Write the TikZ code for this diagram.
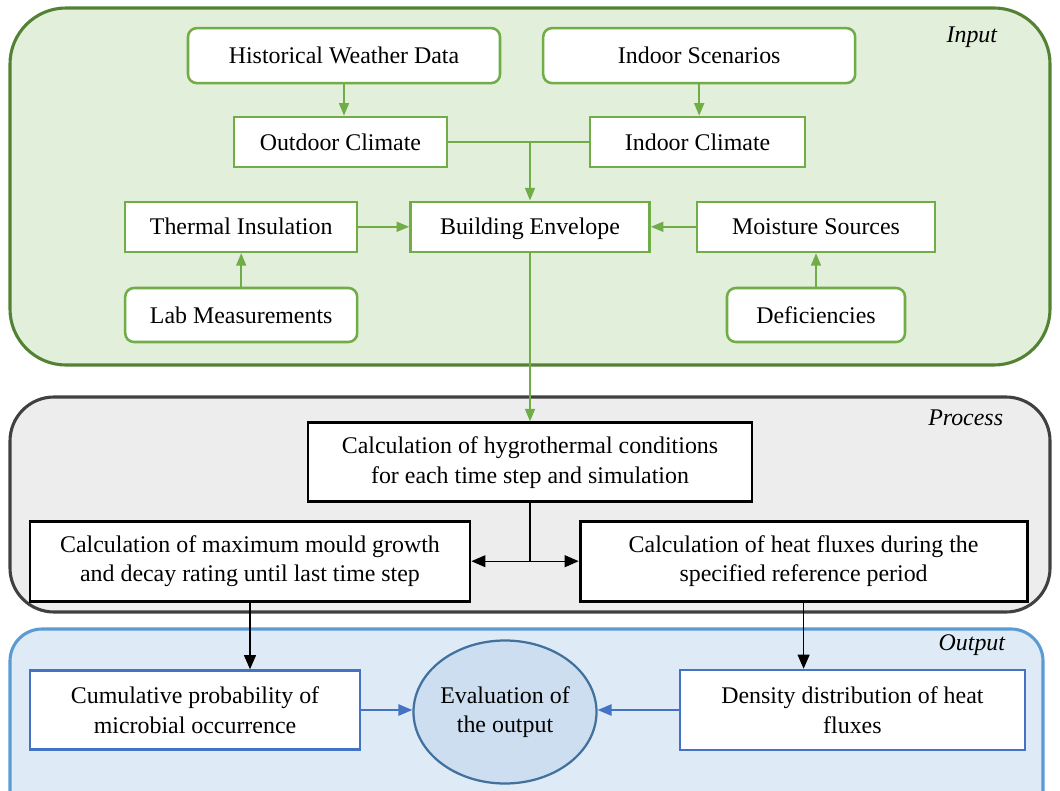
\documentclass[tikz,border=0pt]{standalone}
\usepackage{fontspec}
\setmainfont{Liberation Serif}
\usetikzlibrary{arrows.meta}
\usetikzlibrary{shapes.geometric, math}
\definecolor{infill}{RGB}{226,239,218}
\definecolor{inline}{RGB}{84,130,53}
\definecolor{qgreen}{RGB}{112,173,71}
\definecolor{procfill}{RGB}{237,237,237}
\definecolor{procline}{RGB}{64,64,64}
\definecolor{outfill}{RGB}{222,235,247}
\definecolor{outline}{RGB}{91,155,213}
\definecolor{qblue}{RGB}{68,114,196}
\definecolor{evafill}{RGB}{205,222,240}
\definecolor{evaline}{RGB}{65,113,156}

\begin{document}
\begin{tikzpicture}[
  font=\fontsize{17}{21}\selectfont,
  gbox/.style={draw=qgreen, line width=1.8pt, fill=white, minimum height=1.25cm, inner sep=0pt, text height=11.5pt, text depth=0pt},
  gboxr/.style={gbox, rounded corners=0.22cm, minimum height=1.375cm},
  kbox/.style={draw=black, line width=2pt, fill=white, minimum height=2cm, align=center, inner sep=0pt},
  bbox/.style={draw=qblue, line width=1.8pt, fill=white, minimum height=2cm, align=center, inner sep=0pt},
  garrow/.style={draw=qgreen, line width=1.5pt, -{Triangle[length=9pt,width=7pt]}},
  karrow/.style={draw=black, line width=0.8pt, -{Triangle[length=10pt,width=8.5pt]}},
  barrow/.style={draw=qblue, line width=1.5pt, -{Triangle[length=10pt,width=8pt]}},
  tag/.style={font=\fontsize{17}{21}\selectfont\itshape, anchor=east}
]
\tikzmath{
\W=26.5;
\H=19.775;
}
\useasboundingbox (0,0) rectangle (\W,-\H);

\filldraw[fill=infill, draw=inline, line width=2.2pt, rounded corners=1.4cm] (0.25,-0.2) rectangle (26.25,-9.125);
\filldraw[fill=procfill, draw=procline, line width=2.2pt, rounded corners=1.1cm] (0.25,-9.925) rectangle (26.25,-15.3);
\filldraw[fill=outfill, draw=outline, line width=2.2pt, rounded corners=0.8cm] (0.25,-15.725) rectangle (26.075,-20.6);

\node[tag] (intag) at (25.05,-0.92) {Input};
\node[tag] (proctag) at (25.2,-10.45) {Process};
\node[tag] (outtag) at (25.25,-16.12) {Output};

\node[gboxr, minimum width=7.8cm] (hwd) at (8.6,-1.39) {Historical Weather Data};
\node[gboxr, minimum width=7.8cm] (isc) at (17.48,-1.39) {Indoor Scenarios};
\node[gbox, minimum width=5.325cm] (odc) at (8.51,-3.55) {Outdoor Climate};
\node[gbox, minimum width=5.375cm] (idc) at (17.44,-3.55) {Indoor Climate};
\node[gbox, minimum width=5.8cm] (thi) at (6.03,-5.67) {Thermal Insulation};
\node[gbox, minimum width=5.975cm] (ben) at (13.25,-5.67) {Building Envelope};
\node[gbox, minimum width=5.95cm] (mos) at (20.4,-5.67) {Moisture Sources};
\node[gboxr, minimum width=5.8cm, minimum height=1.35cm] (lab) at (6.03,-7.875) {Lab Measurements};
\node[gboxr, minimum width=4.45cm, minimum height=1.35cm] (def) at (20.4,-7.875) {Deficiencies};

\draw[garrow] (hwd.south) -- (hwd.south |- odc.north);
\draw[garrow] (isc.south) -- (isc.south |- idc.north);
\draw[garrow] (odc.east) -| (ben.north);
\draw[draw=qgreen, line width=1.5pt] (idc.west) -- (ben.north |- idc.west);
\draw[garrow] (lab.north) -- (thi.south);
\draw[garrow] (thi.east) -- (ben.west);
\draw[garrow] (mos.west) -- (ben.east);
\draw[garrow] (def.north) -- (mos.south);

\node[kbox, minimum width=11.1cm, minimum height=1.975cm] (hyg) at (13.25,-11.56) {Calculation of hygrothermal conditions\\for each time step and simulation};
\node[kbox, minimum width=11cm] (mou) at (6.25,-14.03) {Calculation of maximum mould growth\\and decay rating until last time step};
\node[kbox, minimum width=11.175cm] (hfx) at (20.09,-14.03) {Calculation of heat fluxes during the\\specified reference period};

\draw[garrow] (ben.south) -- (hyg.north);
\coordinate (split) at (hyg.south |- mou.east);
\draw[line width=0.8pt] (hyg.south) -- (split);
\draw[karrow] (split) -- (mou.east);
\draw[karrow] (split) -- (hfx.west);

\node[bbox, minimum width=8.25cm, minimum height=1.975cm] (cum) at (4.875,-17.75) {Cumulative probability of\\microbial occurrence};
\node[ellipse, draw=evaline, line width=1.6pt, fill=evafill, minimum width=4.25cm, minimum height=3.575cm, align=center, inner sep=0pt] (eva) at (12.625,-17.8) {Evaluation of\\the output};
\node[bbox, minimum width=8.625cm] (den) at (21.31,-17.75) {Density distribution of heat\\fluxes};

\draw[karrow] (mou.south) -- (mou.south |- cum.north);
\draw[karrow] (hfx.south) -- (hfx.south |- den.north);
\draw[barrow] (cum.east) -- (cum.east -| eva.west);
\draw[barrow] (den.west) -- (den.west -| eva.east);

\end{tikzpicture}
\end{document}
